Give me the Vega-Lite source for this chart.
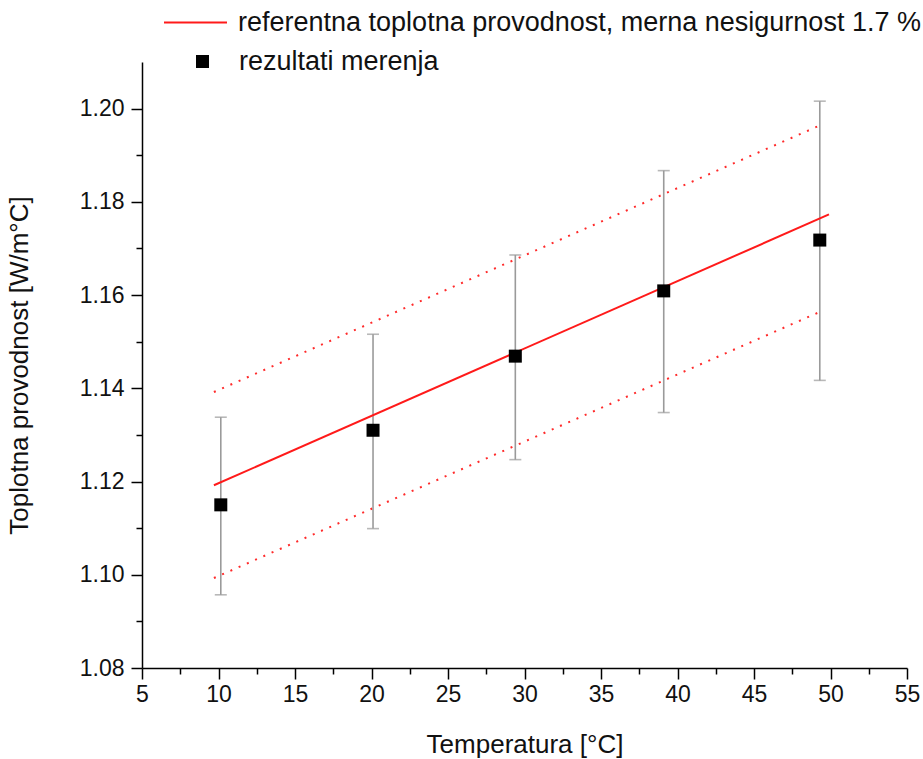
{
  "$schema": "https://vega.github.io/schema/vega-lite/v6.json",
  "width": 765,
  "height": 606,
  "autosize": {"type": "none"},
  "padding": {"left": 142, "top": 62, "right": 16, "bottom": 91},
  "background": "white",
  "config": {
    "view": {"stroke": null},
    "font": "Liberation Sans",
    "axis": {
      "grid": false,
      "domainColor": "black",
      "domainWidth": 1.5,
      "tickColor": "black",
      "tickWidth": 1.5,
      "labelFontSize": 23,
      "labelColor": "#111111",
      "titleFontSize": 26,
      "titleFontWeight": "normal",
      "titleColor": "#111111",
      "labelOverlap": false,
      "labelFlush": false
    },
    "legend": {
      "title": null,
      "labelFontSize": 27,
      "labelColor": "#111111",
      "labelLimit": 1000,
      "padding": 0,
      "orient": "none"
    }
  },
  "datasets": {
    "ref": [
      {"t": 9.7, "k": 1.1192, "curve": "referentna toplotna provodnost, merna nesigurnost 1.7 %"},
      {"t": 49.9, "k": 1.1773, "curve": "referentna toplotna provodnost, merna nesigurnost 1.7 %"}
    ],
    "band": [
      {"t": 9.7, "k": 1.1392, "b": "upper"},
      {"t": 49.45, "k": 1.1966, "b": "upper"},
      {"t": 9.7, "k": 1.0993, "b": "lower"},
      {"t": 49.45, "k": 1.1566, "b": "lower"}
    ],
    "meas": [
      {"t": 10.15, "k": 1.115, "lo": 1.0957, "hi": 1.1338, "group": "rezultati merenja"},
      {"t": 20.1, "k": 1.131, "lo": 1.1099, "hi": 1.1516, "group": "rezultati merenja"},
      {"t": 29.4, "k": 1.1469, "lo": 1.1247, "hi": 1.1686, "group": "rezultati merenja"},
      {"t": 39.1, "k": 1.1609, "lo": 1.1348, "hi": 1.1867, "group": "rezultati merenja"},
      {"t": 49.3, "k": 1.1718, "lo": 1.1417, "hi": 1.2016, "group": "rezultati merenja"}
    ]
  },
  "encoding": {
    "x": {
      "field": "t",
      "type": "quantitative",
      "scale": {"domain": [5, 55], "nice": false, "zero": false},
      "axis": {
        "title": "Temperatura [°C]",
        "values": [5, 7.5, 10, 12.5, 15, 17.5, 20, 22.5, 25, 27.5, 30, 32.5, 35, 37.5, 40, 42.5, 45, 47.5, 50, 52.5, 55],
        "labelExpr": "datum.value % 5 == 0 ? format(datum.value, 'd') : ''",
        "tickSize": {"condition": {"test": "datum.value % 5 != 0", "value": 6}, "value": 11},
        "labelPadding": 4,
        "titlePadding": 25
      }
    },
    "y": {
      "field": "k",
      "type": "quantitative",
      "scale": {"domain": [1.08, 1.21], "nice": false, "zero": false},
      "axis": {
        "title": "Toplotna provodnost [W/m°C]",
        "values": [1.08, 1.09, 1.1, 1.11, 1.12, 1.13, 1.14, 1.15, 1.16, 1.17, 1.18, 1.19, 1.2],
        "labelExpr": "round(datum.value * 100) % 2 == 0 ? format(datum.value, '.2f') : ''",
        "tickSize": {"condition": {"test": "round(datum.value * 100) % 2 != 0", "value": 6}, "value": 11},
        "labelPadding": 7,
        "titlePadding": 47
      }
    }
  },
  "layer": [
    {
      "data": {"name": "band"},
      "mark": {"type": "line", "color": "#ff2a2a", "strokeWidth": 2, "strokeDash": [2, 7]},
      "encoding": {"detail": {"field": "b", "type": "nominal"}}
    },
    {
      "data": {"name": "meas"},
      "mark": {
        "type": "errorbar",
        "color": "#9a9a9a",
        "thickness": 1.6,
        "ticks": {"size": 12, "thickness": 1.6, "color": "#9a9a9a"}
      },
      "encoding": {
        "y": {"field": "lo", "type": "quantitative"},
        "y2": {"field": "hi"}
      }
    },
    {
      "data": {"name": "ref"},
      "mark": {"type": "line", "strokeWidth": 2},
      "encoding": {
        "color": {
          "field": "curve",
          "type": "nominal",
          "scale": {"range": ["#ff1a1a"]},
          "legend": {
            "symbolType": "stroke",
            "symbolSize": 3969,
            "symbolStrokeWidth": 2,
            "labelOffset": 10,
            "legendX": 21,
            "legendY": -72
          }
        }
      }
    },
    {
      "data": {"name": "meas"},
      "mark": {"type": "point", "filled": true, "color": "black", "opacity": 1, "size": 169},
      "encoding": {
        "shape": {
          "field": "group",
          "type": "nominal",
          "scale": {"range": ["square"]},
          "legend": {
            "symbolSize": 169,
            "symbolFillColor": "black",
            "symbolStrokeWidth": 0,
            "symbolOpacity": 1,
            "labelOffset": 23,
            "legendX": 47,
            "legendY": -14
          }
        }
      }
    }
  ]
}
